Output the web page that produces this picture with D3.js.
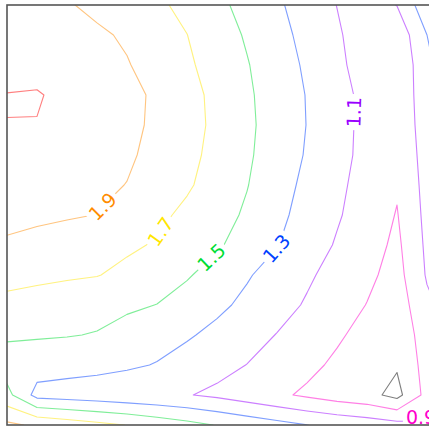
<!DOCTYPE html>
<html>
<head>
<meta charset="utf-8">
<script src="https://cdn.jsdelivr.net/npm/d3@7"></script>
<style>
  html, body { margin: 0; padding: 0; background: #fff; }
  svg { display: block; }
</style>
</head>
<body>
<svg id="chart" width="429" height="426"></svg>
<script>
// Sampled field, one array per grid row (top to bottom), columns left to right.
const row00 = [2.020, 1.968, 1.916, 1.857, 1.795, 1.733, 1.651, 1.546, 1.438, 1.329, 1.215, 1.097, 1.000, 1.105, 1.433, 1.700];
const row01 = [2.050, 2.010, 1.970, 1.929, 1.876, 1.788, 1.702, 1.591, 1.480, 1.363, 1.244, 1.124, 1.000, 0.960, 1.300, 1.650];
const row02 = [2.060, 2.030, 1.996, 1.953, 1.911, 1.828, 1.730, 1.622, 1.511, 1.392, 1.271, 1.149, 1.000, 0.960, 1.220, 1.600];
const row03 = [2.103, 2.115, 2.050, 1.998, 1.943, 1.875, 1.765, 1.651, 1.529, 1.410, 1.292, 1.175, 1.040, 0.960, 1.210, 1.550];
const row04 = [2.099, 2.094, 2.041, 1.989, 1.938, 1.872, 1.769, 1.659, 1.537, 1.416, 1.296, 1.178, 1.040, 0.950, 1.200, 1.500];
const row05 = [2.050, 2.018, 1.985, 1.953, 1.920, 1.861, 1.754, 1.642, 1.527, 1.406, 1.284, 1.167, 1.040, 0.940, 1.180, 1.450];
const row06 = [2.010, 1.983, 1.955, 1.928, 1.897, 1.812, 1.724, 1.619, 1.507, 1.378, 1.256, 1.144, 1.020, 0.920, 1.165, 1.400];
const row07 = [1.960, 1.940, 1.920, 1.897, 1.819, 1.742, 1.659, 1.571, 1.474, 1.347, 1.230, 1.119, 1.012, 0.890, 1.153, 1.350];
const row08 = [1.871, 1.835, 1.800, 1.764, 1.729, 1.684, 1.604, 1.524, 1.421, 1.308, 1.194, 1.083, 0.981, 0.860, 1.137, 1.300];
const row09 = [1.762, 1.744, 1.725, 1.707, 1.656, 1.587, 1.518, 1.423, 1.318, 1.222, 1.128, 1.034, 0.941, 0.830, 1.119, 1.250];
const row10 = [1.648, 1.619, 1.589, 1.560, 1.530, 1.497, 1.422, 1.341, 1.257, 1.170, 1.081, 0.988, 0.895, 0.790, 1.060, 1.200];
const row11 = [1.530, 1.519, 1.509, 1.491, 1.434, 1.377, 1.321, 1.251, 1.173, 1.094, 1.010, 0.925, 0.840, 0.760, 1.000, 1.150];
const row12 = [1.400, 1.390, 1.375, 1.360, 1.330, 1.290, 1.223, 1.160, 1.097, 1.020, 0.944, 0.868, 0.794, 0.720, 0.977, 1.105];
const row13 = [1.560, 1.235, 1.210, 1.185, 1.160, 1.135, 1.110, 1.062, 0.998, 0.934, 0.870, 0.804, 0.760, 0.640, 0.965, 1.050];
const row14 = [1.940, 1.868, 1.810, 1.753, 1.695, 1.627, 1.559, 1.491, 1.427, 1.364, 1.302, 1.255, 1.210, 1.165, 1.120, 1.080];

// Contour levels and their colours
const levels = [0.7, 0.9, 1.1, 1.3, 1.5, 1.7, 1.9, 2.1];
const levelColors = ["#000000", "#ff00cc", "#9900ff", "#0040ff", "#00dd33", "#ffe600", "#ff8c00", "#ff0000"];

// Inline labels: level, text
const labelLevels = [1.9, 1.7, 1.5, 1.3, 1.1, 0.9];
const labelTexts = ["1.9", "1.7", "1.5", "1.3", "1.1", "0.9"];

// Where each label sits (pixel hints, snapped onto its contour) and optional fixed angle
const labelLayout = [
  { at: [108, 212] },
  { at: [161, 232] },
  { at: [212, 258] },
  { at: [277, 249] },
  { at: [358, 112], angle: -88 },
  { at: [421, 417], angle: 0, free: true }
];

const gridRows = [row00, row01, row02, row03, row04, row05, row06, row07,
                  row08, row09, row10, row11, row12, row13, row14];

const W = 429, H = 426;
const plot = { left: 7, top: 5, right: 457, bottom: 425 };
const fontSize = 19;

const nx = gridRows[0].length, ny = gridRows.length;
const values = gridRows.flat();

// d3.contours places sample i at i + 0.5
const x = d3.scaleLinear().domain([0.5, nx - 0.5]).range([plot.left, plot.right]);
const y = d3.scaleLinear().domain([0.5, ny - 0.5]).range([plot.top, plot.bottom]);

const contours = d3.contours().size([nx, ny]).thresholds(levels)(values);
const project = d3.geoTransform({
  point(px, py) { this.stream.point(x(px), y(py)); }
});
const path = d3.geoPath(project);
const color = d3.scaleOrdinal().domain(levels).range(levelColors);

const svg = d3.select("#chart");
const defs = svg.append("defs");

defs.append("clipPath").attr("id", "plot-clip")
  .append("rect")
  .attr("x", plot.left).attr("y", plot.top)
  .attr("width", plot.right - plot.left).attr("height", plot.bottom - plot.top);

const mask = defs.append("mask").attr("id", "label-gaps")
  .attr("maskUnits", "userSpaceOnUse")
  .attr("x", 0).attr("y", 0).attr("width", W).attr("height", H);
mask.append("rect").attr("x", 0).attr("y", 0).attr("width", W).attr("height", H).attr("fill", "#fff");

svg.append("rect").attr("width", W).attr("height", H).attr("fill", "#fff");

const lines = svg.append("g").attr("clip-path", "url(#plot-clip)")
  .append("g").attr("mask", "url(#label-gaps)");

lines.selectAll("path")
  .data(contours)
  .join("path")
  .attr("d", path)
  .attr("fill", "none")
  .attr("stroke", d => color(d.value))
  .attr("stroke-opacity", 0.5)
  .attr("stroke-width", 1.1)
  .attr("stroke-linejoin", "round");

// Rings of one level in pixel space
function ringsFor(level) {
  const c = contours.find(d => Math.abs(d.value - level) < 1e-9);
  const out = [];
  if (!c) return out;
  c.coordinates.forEach(poly => poly.forEach(ring => {
    out.push(ring.map(p => [x(p[0]), y(p[1])]));
  }));
  return out;
}

// Nearest point on the contour and the local direction there
function snap(level, target) {
  let best = null;
  ringsFor(level).forEach(ring => {
    for (let i = 0; i < ring.length - 1; i++) {
      const a = ring[i], b = ring[i + 1];
      const dx = b[0] - a[0], dy = b[1] - a[1];
      const len2 = dx * dx + dy * dy;
      if (len2 === 0) continue;
      let t = ((target[0] - a[0]) * dx + (target[1] - a[1]) * dy) / len2;
      t = Math.max(0, Math.min(1, t));
      const p = [a[0] + t * dx, a[1] + t * dy];
      const d2 = (p[0] - target[0]) ** 2 + (p[1] - target[1]) ** 2;
      if (!best || d2 < best.d2) best = { d2, p, ang: Math.atan2(dy, dx) * 180 / Math.PI };
    }
  });
  return best;
}

const labelG = svg.append("g")
  .attr("font-family", "DejaVu Sans, sans-serif")
  .attr("font-size", fontSize);

labelLevels.forEach((lv, i) => {
  const lay = labelLayout[i];
  let pos = lay.at, ang = 0;
  if (!lay.free) {
    const s = snap(lv, lay.at);
    if (s) { pos = s.p; ang = s.ang; }
  }
  if (lay.angle !== undefined) ang = lay.angle;
  while (ang > 90) ang -= 180;
  while (ang <= -90) ang += 180;

  const t = labelG.append("text")
    .attr("transform", `translate(${pos[0]},${pos[1]}) rotate(${ang})`)
    .attr("text-anchor", "middle")
    .attr("dy", "0.36em")
    .attr("fill", color(lv))
    .text(labelTexts[i]);

  const w = t.node().getComputedTextLength();
  mask.append("rect")
    .attr("transform", `translate(${pos[0]},${pos[1]}) rotate(${ang})`)
    .attr("x", -w / 2 - 3).attr("y", -fontSize * 0.45)
    .attr("width", w + 6).attr("height", fontSize * 0.9)
    .attr("fill", "#000");
});

// Axes frame
svg.append("rect")
  .attr("x", plot.left).attr("y", plot.top)
  .attr("width", plot.right - plot.left).attr("height", plot.bottom - plot.top)
  .attr("fill", "none")
  .attr("stroke", "#555")
  .attr("stroke-width", 1.6);
</script>
</body>
</html>
